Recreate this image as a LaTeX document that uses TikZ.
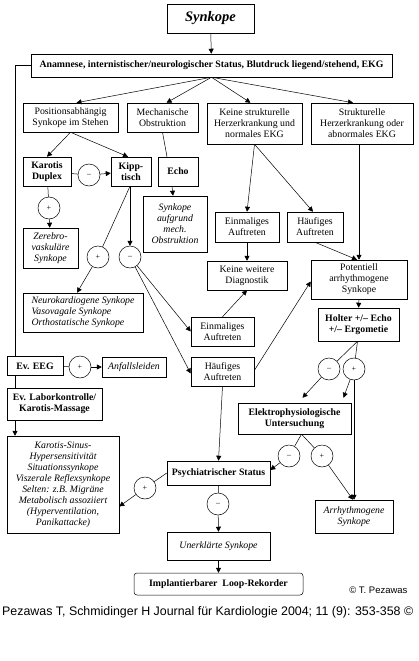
\documentclass[tikz,border=0pt]{standalone}
\usepackage{fontspec}
\setmainfont{Liberation Serif}
\newfontfamily\arialfont{Liberation Sans}
\usepackage{graphicx}
\usepackage{tikz}
\usetikzlibrary{arrows.meta, calc, positioning}

\begin{document}
\begin{tikzpicture}[
  x=1pt, y=-1pt,
  font=\fontsize{9.8}{11}\selectfont,
  box/.style={draw, align=center, inner sep=1pt, line width=0.5pt, fill=white},
  boldbox/.style={box, font=\fontsize{9.8}{11}\selectfont\bfseries},
  itbox/.style={box, font=\fontsize{9.8}{11}\selectfont\itshape},
  sign/.style={draw, circle, minimum size=22pt, inner sep=0pt, line width=0.5pt,
               font=\footnotesize},
  arrow/.style={-{Triangle[length=5pt,width=5pt]}, line width=0.5pt},
  link/.style={line width=0.5pt}
]
\useasboundingbox[fill=white] (0,0) rectangle (419,661);

% ---------------- Top ----------------
\node[box, minimum width=87pt, minimum height=29pt,
      font=\fontsize{14.5}{16}\selectfont\bfseries\itshape] (synk) at (210.5,18.5) {Synkope};
\node[boldbox, minimum width=361pt, minimum height=23pt] (anam) at (211.5,65.5)
  {Anamnese, internistischer/neurologischer Status, Blutdruck liegend/stehend, EKG};

% ---------------- First level ----------------
\node[box, minimum width=95pt, minimum height=29pt] (pos) at (70.5,117.5)
  {Positionsabhängig\\Synkope im Stehen};
\node[box, minimum width=71pt, minimum height=29pt] (mech) at (162.5,117.5)
  {Mechanische\\Obstruktion};
\node[box, minimum width=95pt, minimum height=41pt] (keine) at (254.5,123.5)
  {Keine strukturelle\\Herzerkrankung und\\normales EKG};
\node[box, minimum width=102pt, minimum height=41pt] (struk) at (362,123.5)
  {Strukturelle\\Herzerkrankung oder\\abnormales EKG};

% ---------------- Position branch ----------------
\node[boldbox, minimum width=48pt, minimum height=29pt] (duplex) at (47,171.5) {Karotis\\Duplex};
\node[boldbox, minimum width=40pt, minimum height=29pt] (kipp) at (131,171.5) {Kipp-\\tisch};
\node[sign] (c1) at (89,175) {--};
\node[sign] (c2) at (49,208) {+};
\node[itbox, minimum width=55pt, minimum height=40pt] (zerebro) at (50.5,248)
  {Zerebro-\\vaskuläre\\Synkope};
\node[sign] (c3) at (98,257) {+};
\node[sign] (c4) at (130,257) {--};
\node[itbox, align=left, minimum width=120pt, minimum height=39pt] (neuro) at (83,312.5)
  {Neurokardiogene Synkope\\Vasovagale Synkope\\Orthostatische Synkope};

% ---------------- Obstruction branch ----------------
\node[boldbox, minimum width=40pt, minimum height=29pt] (echo) at (178,171.5) {Echo};
\node[itbox, minimum width=64pt, minimum height=56pt] (mechsyn) at (175,224)
  {Synkope\\aufgrund\\mech.\\Obstruktion};

% ---------------- Heart branches ----------------
\node[box, minimum width=64pt, minimum height=30pt] (einm1) at (247,227) {Einmaliges\\Auftreten};
\node[box, minimum width=56pt, minimum height=30pt] (haeuf1) at (315,227) {Häufiges\\Auftreten};
\node[box, minimum width=80pt, minimum height=29pt] (diag) at (247,275.5) {Keine weitere\\Diagnostik};
\node[box, minimum width=96pt, minimum height=39pt] (pot) at (359,279.5)
  {Potentiell\\arrhythmogene\\Synkope};
\node[box, minimum width=63pt, minimum height=29pt] (einm2) at (222.5,331.5) {Einmaliges\\Auftreten};
\node[box, minimum width=63pt, minimum height=29pt] (haeuf2) at (222.5,371.5) {Häufiges\\Auftreten};
\node[boldbox, minimum width=81pt, minimum height=33pt] (holter) at (358.5,324.5)
  {Holter +/-- Echo\\+/-- Ergometie};
\node[sign] (c6) at (329,369) {--};
\node[sign] (c7) at (354,369) {+};
\node[boldbox, minimum width=113pt, minimum height=31pt] (ephys) at (294.5,418.5)
  {Elektrophysiologische\\Untersuchung};
\node[sign] (c8) at (289,456) {--};
\node[sign] (c9) at (322,456) {+};
\node[itbox, minimum width=78pt, minimum height=33pt] (arrh) at (354,516.5)
  {Arrhythmogene\\Synkope};

% ---------------- Left column ----------------
\node[boldbox, minimum width=56pt, minimum height=19pt] (eeg) at (35,366) {Ev. EEG};
\node[sign] (c5) at (80,367) {+};
\node[itbox, minimum width=64pt, minimum height=20pt] (anfall) at (134,367) {Anfallsleiden};
\node[boldbox, minimum width=95pt, minimum height=32pt] (labor) at (54.5,404)
  {Ev. Laborkontrolle/\\Karotis-Massage};
\node[itbox, minimum width=112pt, minimum height=97pt] (ksinus) at (63,484.5)
  {Karotis-Sinus-\\Hypersensitivität\\Situationssynkope\\Viszerale Reflexsynkope\\
   Selten: z.B. Migräne\\Metabolisch assoziiert\\(Hyperventilation,\\Panikattacke)};

% ---------------- Bottom ----------------
\node[boldbox, minimum width=103pt, minimum height=24pt] (psych) at (218.5,473) {Psychiatrischer Status};
\node[sign] (c10) at (145,488) {+};
\node[sign] (c11) at (218,504) {--};
\node[itbox, minimum width=103pt, minimum height=28pt] (unerkl) at (218.5,546) {Unerklärte Synkope};
\node[boldbox, rounded corners=3pt, minimum width=169pt, minimum height=22pt] (loop) at (218.5,584)
  {Implantierbarer\ \ Loop-Rekorder};

\node[font=\arialfont\fontsize{9.5}{11}\selectfont, anchor=east] (copy) at (411,590) {© T. Pezawas};
\node[font=\arialfont\fontsize{12.5}{14}\selectfont, anchor=west, inner sep=0pt] (cite) at (2,612)
  {\resizebox{411pt}{!}{Pezawas T, Schmidinger H Journal für Kardiologie 2004; 11 (9): 353-358 ©}};

% ---------------- Arrows ----------------
\draw[arrow] (synk) -- (anam);
\draw[arrow] (anam.south) -- ([xshift=6pt]pos.north);
\draw[arrow] (anam.south) -- ([xshift=4pt]mech.north);
\draw[arrow] (anam.south) -- ([xshift=-4pt]keine.north);
\draw[arrow] (anam.south) -- ([xshift=-9pt]struk.north);

% position
\draw[arrow] (pos.south) -- (duplex.north);
\draw[arrow] (pos.south) -- ([xshift=-3pt]kipp.north);
\draw[link] (duplex) -- (c1);
\draw[arrow] (c1) -- (kipp);
\draw[link] (duplex) -- (c2);
\draw[arrow] (c2) -- (zerebro);
\draw[link] ([xshift=-1pt]kipp.south) -- (c3);
\draw[arrow] (c3) -- ([xshift=-6pt]neuro.north);
\draw[arrow] ([xshift=-1pt]kipp.south) -- (c4);
\draw[arrow] (c4) -- (einm2.west);
\draw[arrow] (c4) -- ([yshift=-2pt]haeuf2.west);

% obstruction
\draw[link] (mech.south) -- ([xshift=-11pt]echo.north);
\draw[arrow] ([xshift=-6pt]echo.south) -- ([xshift=-2pt]mechsyn.north);

% heart
\draw[arrow] (keine.south) -- (einm1.north);
\draw[arrow] (keine.south) -- ([xshift=-2pt]haeuf1.north);
\draw[arrow] (einm1) -- (diag);
\draw[arrow] (haeuf1.south) -- ([xshift=-2pt]pot.north);
\draw[arrow] (pot.north |- struk.south) -- (pot.north);
\draw[arrow] (einm2.north) -- (diag.south);
\draw[arrow] ([yshift=1pt]haeuf2.east) -- ([yshift=-2pt]pot.west);
\draw[arrow] (pot) -- (holter);
\draw[link] ([xshift=-1pt]holter.south) -- (c6);
\draw[link] ([xshift=-1pt]holter.south) -- (c7);
\draw[arrow] (c6) -- ([xshift=8pt,yshift=5pt]ephys.north);
\draw[arrow] (c7) -- ([xshift=49pt,yshift=5pt]ephys.north);
\draw[arrow] (c7) -- (arrh.north);
\draw[link] ([xshift=7pt]ephys.south) -- (c8);
\draw[link] ([xshift=7pt]ephys.south) -- (c9);
\draw[arrow] (c8) -- ([yshift=3pt]psych.east);
\draw[arrow] (c9) -- ([xshift=-1pt]arrh.north);

% left column
\coordinate (bend) at (15,65.5);
\draw[link] (anam.west) -- (bend) -- (bend |- eeg.north);
\draw[link] (bend |- eeg.south) -- (bend |- labor.north);
\draw[arrow] (bend |- labor.south) -- (bend |- ksinus.north);
\draw[link] (eeg) -- (c5);
\draw[arrow] (c5) -- (anfall);

% bottom
\draw[arrow] (haeuf2.south) -- (psych.north);
\draw[link] (psych.west) -- (c10);
\draw[arrow] (c10) -- ([yshift=-22pt]ksinus.east);
\draw[link] (psych.south) -- (c11);
\draw[arrow] (c11) -- (unerkl.north);
\draw[arrow] (unerkl) -- (loop);
\end{tikzpicture}
\end{document}
